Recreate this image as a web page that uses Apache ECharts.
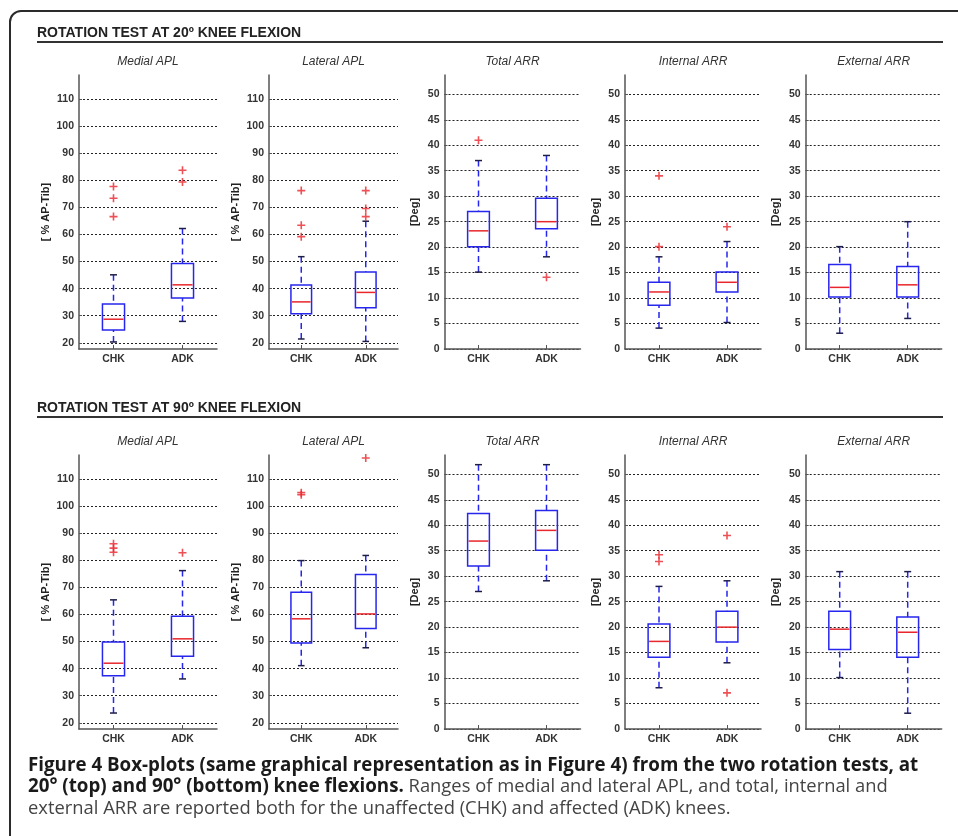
<!DOCTYPE html>
<html><head><meta charset="utf-8">
<script src="https://cdn.jsdelivr.net/npm/echarts@6/dist/echarts.min.js"></script>
<style>html,body{margin:0;padding:0;background:#fff}#c{width:958px;height:836px}</style>
</head><body><div id="c"></div>
<script>
// ---------- DATA ----------
const categories = ['CHK', 'ADK'];
const panelTitles = ['Medial APL', 'Lateral APL', 'Total ARR', 'Internal ARR', 'External ARR'];
const sectionTitles = ['ROTATION TEST AT 20\u00ba KNEE FLEXION', 'ROTATION TEST AT 90\u00ba KNEE FLEXION'];
const aplAxisName = '[ % AP-Tib]';
const arrAxisName = '[Deg]';
const aplTicks = [20, 30, 40, 50, 60, 70, 80, 90, 100, 110];
const arrTicks = [0, 5, 10, 15, 20, 25, 30, 35, 40, 45, 50];
const aplRange = [17.7, 118.9];
const arrRange = [0, 53.8];

// box stats per knee: [lower whisker, Q1, median, Q3, upper whisker]
const medialAPL_20 = [[20.3, 24.7, 28.7, 34.3, 45.1], [27.9, 36.5, 41.4, 49.3, 62.2]];
const medialAPL_20_out = [[77.7, 73.4, 66.6], [83.7, 79.4]];
const lateralAPL_20 = [[21.4, 30.7, 35.1, 41.3, 51.8], [20.5, 32.9, 38.6, 46.1, 64.9]];
const lateralAPL_20_out = [[76.2, 63.4, 59.2], [76.2, 69.6, 66.6]];
const totalARR_20 = [[15.1, 20.1, 23.2, 27.0, 37.0], [18.1, 23.6, 25.0, 29.6, 38.0]];
const totalARR_20_out = [[41.0], [14.1]];
const internalARR_20 = [[4.1, 8.6, 11.2, 13.1, 18.1], [5.2, 11.2, 13.1, 15.1, 21.1]];
const internalARR_20_out = [[34.0, 20.1], [24.0]];
const externalARR_20 = [[3.1, 10.2, 12.1, 16.6, 20.1], [6.0, 10.2, 12.6, 16.2, 25.0]];
const externalARR_20_out = [[], []];

const medialAPL_90 = [[23.6, 37.4, 42.0, 49.8, 65.4], [36.2, 44.6, 51.0, 59.3, 76.2]];
const medialAPL_90_out = [[86.1, 84.5, 83.0], [82.8]];
const lateralAPL_90 = [[41.1, 49.5, 58.4, 68.2, 79.9], [47.7, 54.8, 60.2, 74.8, 81.8]];
const lateralAPL_90_out = [[105.0, 104.2], [117.8]];
const totalARR_90 = [[27.0, 32.0, 36.9, 42.3, 51.9], [29.1, 35.1, 39.0, 42.9, 51.9]];
const totalARR_90_out = [[], []];
const internalARR_90 = [[8.1, 14.1, 17.2, 20.6, 28.0], [13.0, 17.1, 20.0, 23.1, 29.1]];
const internalARR_90_out = [[34.2, 32.9], [38.0, 7.1]];
const externalARR_90 = [[10.1, 15.6, 19.6, 23.1, 30.9], [3.1, 14.1, 19.0, 22.0, 30.9]];
const externalARR_90_out = [[], []];

const captionBold1 = 'Figure 4 Box-plots (same graphical representation as in Figure 4) from the two rotation tests, at';
const captionBold2 = '20\u00b0 (top) and 90\u00b0 (bottom) knee flexions.';
const captionReg2 = ' Ranges of medial and lateral APL, and total, internal and';
const captionReg3 = 'external ARR are reported both for the unaffected (CHK) and affected (ADK) knees.';

// ---------- LAYOUT ----------
const colLeft = [79, 269, 444.5, 625, 805.7];
const colWidth = [138, 129, 136, 136, 136];
const rowTop = [75, 455];
const rowHeight = 274;
const FONT = '"Liberation Sans", Arial, sans-serif';
const BLUE = '#2626ee', RED = '#e8262b', CAP = '#1d1d4a', AX = '#555';

const rows = [
  [[medialAPL_20, medialAPL_20_out], [lateralAPL_20, lateralAPL_20_out], [totalARR_20, totalARR_20_out], [internalARR_20, internalARR_20_out], [externalARR_20, externalARR_20_out]],
  [[medialAPL_90, medialAPL_90_out], [lateralAPL_90, lateralAPL_90_out], [totalARR_90, totalARR_90_out], [internalARR_90, internalARR_90_out], [externalARR_90, externalARR_90_out]]
];

const plusSymbol = 'path://M0,4H10V6H0Z M4,0H6V10H4Z';

function renderBox(params, api) {
  const k = api.value(0);
  const p = [1, 2, 3, 4, 5].map(d => api.coord([k, api.value(d)]));
  const cx = p[0][0];
  const yLow = p[0][1], yQ1 = p[1][1], yMed = p[2][1], yQ3 = p[3][1], yHigh = p[4][1];
  const band = api.size([1, 0])[0];
  const bw = band * 0.32, cw = bw * 0.32;
  const dash = [6, 4];
  return {
    type: 'group',
    children: [
      { type: 'line', shape: { x1: cx, y1: yHigh, x2: cx, y2: yQ3 }, style: { stroke: BLUE, lineWidth: 1.5, lineDash: dash } },
      { type: 'line', shape: { x1: cx, y1: yLow, x2: cx, y2: yQ1 }, style: { stroke: BLUE, lineWidth: 1.5, lineDash: dash } },
      { type: 'line', shape: { x1: cx - cw / 2, y1: yHigh, x2: cx + cw / 2, y2: yHigh }, style: { stroke: CAP, lineWidth: 1.5 } },
      { type: 'line', shape: { x1: cx - cw / 2, y1: yLow, x2: cx + cw / 2, y2: yLow }, style: { stroke: CAP, lineWidth: 1.5 } },
      { type: 'rect', shape: { x: cx - bw / 2, y: yQ3, width: bw, height: yQ1 - yQ3 }, style: { stroke: BLUE, fill: 'none', lineWidth: 1.5 } },
      { type: 'line', shape: { x1: cx - bw / 2 + 1, y1: yMed, x2: cx + bw / 2 - 1, y2: yMed }, style: { stroke: RED, lineWidth: 1.5 } }
    ]
  };
}

const grid = [], xAxis = [], yAxis = [], series = [], graphic = [];

graphic.push({ type: 'rect', shape: { x: 10, y: 11, width: 1200, height: 1000, r: [11, 0, 0, 0] }, style: { fill: 'none', stroke: '#2b2b2b', lineWidth: 2 }, silent: true });

sectionTitles.forEach((t, r) => {
  const yc = r === 0 ? 33 : 408;
  const yl = r === 0 ? 42 : 417;
  graphic.push({ type: 'text', x: 37, y: yc, style: { text: t, font: 'bold 14px ' + FONT, fill: '#222', align: 'left', verticalAlign: 'middle' }, silent: true });
  graphic.push({ type: 'line', shape: { x1: 37, y1: yl, x2: 943, y2: yl }, style: { stroke: '#333', lineWidth: 2 }, silent: true });
});

rows.forEach((row, r) => {
  row.forEach((panel, c) => {
    const i = r * 5 + c;
    const isAPL = c < 2;
    const ticks = isAPL ? aplTicks : arrTicks;
    const range = isAPL ? aplRange : arrRange;
    grid.push({ left: colLeft[c], top: rowTop[r], width: colWidth[c], height: rowHeight, containLabel: false });
    xAxis.push({
      gridIndex: i, type: 'category', data: categories, boundaryGap: true,
      axisLine: { show: true, lineStyle: { color: AX, width: 1.5 } },
      axisTick: { show: true, inside: true, alignWithLabel: true, length: 4, lineStyle: { color: AX, width: 1 } },
      axisLabel: { color: '#333', fontWeight: 'bold', fontSize: 10.5, fontFamily: FONT, margin: 5 },
      splitLine: { show: false }
    });
    yAxis.push({
      gridIndex: i, type: 'value', min: range[0], max: range[1],
      axisLine: { show: true, lineStyle: { color: AX, width: 1.5 } },
      axisTick: { show: true, inside: true, length: 3, customValues: ticks, lineStyle: { color: AX } },
      axisLabel: { customValues: ticks, color: '#333', fontWeight: 'bold', fontSize: 10.5, fontFamily: FONT, margin: 5 },
      splitLine: { show: true, lineStyle: { color: '#222', type: [2, 2], width: 1 } },
      name: isAPL ? aplAxisName : arrAxisName,
      nameLocation: 'middle', nameRotate: 90, nameGap: isAPL ? 28 : 24,
      nameTextStyle: { color: '#222', fontWeight: 'bold', fontSize: 11, fontFamily: FONT }
    });
    series.push({
      type: 'custom', xAxisIndex: i, yAxisIndex: i, silent: true, z: 3,
      data: panel[0].map((b, k) => [k].concat(b)),
      encode: { x: 0, y: [1, 2, 3, 4, 5] },
      renderItem: renderBox
    });
    series.push({
      type: 'scatter', xAxisIndex: i, yAxisIndex: i, silent: true, z: 4,
      symbol: plusSymbol, symbolSize: 8,
      itemStyle: { color: RED },
      data: panel[1].flatMap((arr, k) => arr.map(v => [k, v]))
    });
    graphic.push({ type: 'text', x: colLeft[c] + colWidth[c] / 2, y: rowTop[r] - 13,
      style: { text: panelTitles[c], font: 'italic 12px ' + FONT, fill: '#333', align: 'center', verticalAlign: 'middle' }, silent: true });
  });
});

// caption
const cap = '"Open Sans", "Noto Sans", sans-serif';
const ctx = document.createElement('canvas').getContext('2d');
ctx.font = 'bold 100px ' + cap;
const boldSize = 100 * 890 / ctx.measureText(captionBold1).width;
ctx.font = 'normal 100px ' + cap;
const regSize = 100 * 703 / ctx.measureText(captionReg3).width;
graphic.push({ type: 'text', x: 28, y: 765.5, style: { text: captionBold1, font: 'bold ' + boldSize.toFixed(2) + 'px ' + cap, fill: '#1a1a1a', align: 'left', verticalAlign: 'middle' }, silent: true });
graphic.push({ type: 'text', x: 28, y: 787, style: {
  text: '{b|' + captionBold2 + '}{r|' + captionReg2 + '}',
  align: 'left', verticalAlign: 'middle',
  rich: {
    b: { font: 'bold ' + boldSize.toFixed(2) + 'px ' + cap, fill: '#1a1a1a' },
    r: { font: 'normal ' + regSize.toFixed(2) + 'px ' + cap, fill: '#444' }
  } }, silent: true });
graphic.push({ type: 'text', x: 28, y: 808.5, style: { text: captionReg3, font: 'normal ' + regSize.toFixed(2) + 'px ' + cap, fill: '#444', align: 'left', verticalAlign: 'middle' }, silent: true });

const chart = echarts.init(document.getElementById('c'), null, { renderer: 'canvas' });
chart.setOption({ animation: false, backgroundColor: '#fff', grid, xAxis, yAxis, series, graphic });
</script></body></html>
